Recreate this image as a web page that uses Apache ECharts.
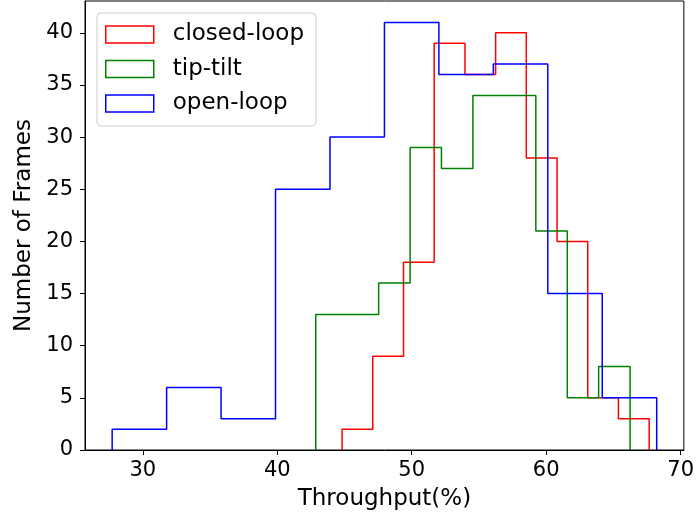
<!DOCTYPE html>
<html>
<head>
<meta charset="utf-8">
<script src="https://cdn.jsdelivr.net/npm/echarts@6/dist/echarts.min.js"></script>
<style>
  html, body { margin: 0; padding: 0; background: #fff; }
  #chart { width: 697px; height: 516px; }
</style>
</head>
<body>
<div id="chart"></div>
<script>
// Series names
var seriesNames = ['closed-loop', 'tip-tilt', 'open-loop'];
// Bin edges (Throughput %)
var closedEdges = [44.82, 47.10, 49.39, 51.67, 53.96, 56.24, 58.52, 60.81, 63.09, 65.37, 67.66];
var tipEdges    = [42.86, 45.20, 47.54, 49.88, 52.21, 54.55, 56.89, 59.23, 61.57, 63.90, 66.24];
var openEdges   = [27.72, 31.77, 35.82, 39.87, 43.92, 47.97, 52.02, 56.07, 60.12, 64.17, 68.22];
// Counts (Number of Frames)
var closedCounts = [2, 9, 18, 39, 36, 40, 28, 20, 5, 3];
var tipCounts    = [13, 13, 16, 29, 27, 34, 34, 21, 5, 8];
var openCounts   = [2, 6, 3, 25, 30, 41, 36, 37, 15, 5];
// Tick labels
var xTicks = [30, 40, 50, 60, 70];
var yTicks = [0, 5, 10, 15, 20, 25, 30, 35, 40];
var colors = ['#ff0000', '#008000', '#0000ff'];

function stepOutline(edges, counts) {
  var pts = [[edges[0], 0]];
  for (var i = 0; i < counts.length; i++) {
    pts.push([edges[i], counts[i]]);
    pts.push([edges[i + 1], counts[i]]);
  }
  pts.push([edges[edges.length - 1], 0]);
  return pts;
}

var outlines = [
  stepOutline(closedEdges, closedCounts),
  stepOutline(tipEdges, tipCounts),
  stepOutline(openEdges, openCounts)
];

var chart = echarts.init(document.getElementById('chart'), null, { renderer: 'canvas' });
var font = 'DejaVu Sans';

var option = {
  animation: false,
  backgroundColor: '#ffffff',
  grid: {
    left: 85, right: 10, top: 1, bottom: 66,
    show: true, borderColor: '#000', borderWidth: 1, backgroundColor: 'transparent'
  },
  xAxis: {
    type: 'value',
    min: 25.7, max: 70.24,
    name: 'Throughput(%)',
    nameLocation: 'middle',
    nameGap: 38,
    nameTextStyle: { fontFamily: font, fontSize: 23, color: '#000' },
    axisLine: { show: true, lineStyle: { color: '#000', width: 1 } },
    axisTick: { show: true, customValues: xTicks, length: 5, inside: false, lineStyle: { color: '#000', width: 1 } },
    axisLabel: { customValues: xTicks, fontFamily: font, fontSize: 21, color: '#000', margin: 10 },
    splitLine: { show: false }
  },
  yAxis: {
    type: 'value',
    min: 0, max: 43.05,
    name: 'Number of Frames',
    nameLocation: 'middle',
    nameGap: 49,
    nameRotate: 90,
    nameTextStyle: { fontFamily: font, fontSize: 23, color: '#000' },
    axisLine: { show: true, lineStyle: { color: '#000', width: 1 } },
    axisTick: { show: true, customValues: yTicks, length: 5, inside: false, lineStyle: { color: '#000', width: 1 } },
    axisLabel: { customValues: yTicks, fontFamily: font, fontSize: 21, color: '#000', margin: 12 },
    splitLine: { show: false }
  },
  legend: {
    orient: 'vertical',
    left: 97, top: 13,
    icon: 'rect',
    itemWidth: 48, itemHeight: 17,
    itemGap: 11.5,
    padding: [10, 12, 11, 8],
    backgroundColor: 'rgba(255,255,255,0.8)',
    borderColor: '#cccccc', borderWidth: 1, borderRadius: 4,
    textStyle: { fontFamily: font, fontSize: 23, color: '#000', lineHeight: 23, padding: [0, 0, 0, 14] },
    data: seriesNames.map(function (n, i) {
      return { name: n, itemStyle: { color: '#ffffff', borderColor: colors[i], borderWidth: 1.5 } };
    })
  },
  series: seriesNames.map(function (n, i) {
    return {
      name: n,
      type: 'line',
      data: outlines[i],
      showSymbol: false,
      symbol: 'none',
      color: colors[i],
      lineStyle: { color: colors[i], width: 1.5 },
      z: 2 + i
    };
  })
};
chart.setOption(option);
</script>
</body>
</html>
